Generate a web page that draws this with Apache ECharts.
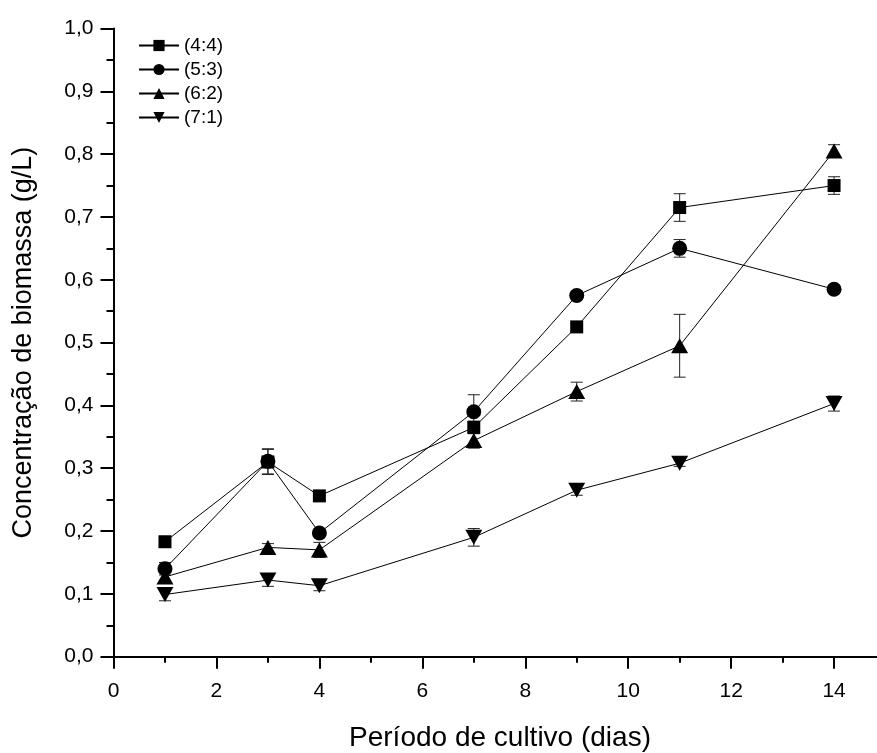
<!DOCTYPE html>
<html>
<head>
<meta charset="utf-8">
<script src="https://cdn.jsdelivr.net/npm/echarts@6/dist/echarts.min.js"></script>
<style>
  html, body { margin: 0; padding: 0; background: #fff; }
  #chart { width: 877px; height: 753px; }
</style>
</head>
<body>
<div id="chart"></div>
<script>
// dias de cultivo
var days = [1, 3, 4, 7, 9, 11, 14];

// biomassa (g/L) por proporção
var s44 = [0.183, 0.310, 0.256, 0.365, 0.525, 0.715, 0.750];
var s53 = [0.140, 0.311, 0.197, 0.390, 0.575, 0.650, 0.585];
var s62 = [0.127, 0.174, 0.170, 0.344, 0.422, 0.495, 0.805];
var s71 = [0.099, 0.122, 0.113, 0.190, 0.265, 0.308, 0.403];

// desvio (barras de erro)
var e44 = [0.008, 0.020, 0.008, 0.010, 0.006, 0.022, 0.014];
var e53 = [0.010, 0.020, 0.006, 0.027, 0.006, 0.014, 0.006];
var e62 = [0.010, 0.006, 0.012, 0.012, 0.015, 0.050, 0.010];
var e71 = [0.010, 0.010, 0.008, 0.014, 0.008, 0.005, 0.012];

var names = ['(4:4)', '(5:3)', '(6:2)', '(7:1)'];

var font = "'Liberation Sans', Arial, sans-serif";

function pairs(vals) {
    var out = [];
    for (var i = 0; i < days.length; i++) out.push([days[i], vals[i]]);
    return out;
}

function errData(vals, errs) {
    var out = [];
    for (var i = 0; i < days.length; i++) out.push([days[i], vals[i], errs[i]]);
    return out;
}

function errorBars(vals, errs) {
    return {
        type: 'custom',
        z: 1,
        silent: true,
        data: errData(vals, errs),
        renderItem: function (params, api) {
            var x = api.value(0), y = api.value(1), e = api.value(2);
            var top = api.coord([x, y + e]);
            var bot = api.coord([x, y - e]);
            var half = 6;
            var st = { stroke: '#222', lineWidth: 1 };
            return {
                type: 'group',
                children: [
                    { type: 'line', shape: { x1: top[0], y1: top[1], x2: bot[0], y2: bot[1] }, style: st },
                    { type: 'line', shape: { x1: top[0] - half, y1: top[1], x2: top[0] + half, y2: top[1] }, style: st },
                    { type: 'line', shape: { x1: bot[0] - half, y1: bot[1], x2: bot[0] + half, y2: bot[1] }, style: st }
                ]
            };
        }
    };
}

function lineSeries(name, vals, symbol, size) {
    return {
        name: name,
        type: 'line',
        z: 3,
        data: pairs(vals),
        symbol: symbol,
        symbolSize: size,
        showAllSymbol: true,
        itemStyle: { color: '#000', borderWidth: 0 },
        lineStyle: { color: '#000', width: 1 }
    };
}

var downTri = 'path://M0,0 L10,0 L5,9 Z';

var chart = echarts.init(document.getElementById('chart'));

var option = {
    animation: false,
    backgroundColor: '#fff',
    grid: {
        left: 113.5, top: 28.5, bottom: 96.3, right: -60,
        containLabel: false,
        outerBoundsMode: 'none'
    },
    legend: {
        data: names,
        orient: 'vertical',
        left: 138,
        top: 36,
        padding: 0,
        itemWidth: 40,
        itemHeight: 14,
        itemGap: 5,
        itemTextGap: 8,
        textStyle: { fontFamily: font, fontSize: 19, color: '#000', lineHeight: 19 }
    },
    xAxis: {
        type: 'value',
        min: 0,
        max: 16,
        interval: 2,
        axisLine: { show: true, onZero: false, lineStyle: { color: '#000', width: 2 } },
        axisTick: { show: true, inside: false, length: 12, lineStyle: { color: '#000', width: 2 } },
        minorTick: { show: true, splitNumber: 2, length: 6, lineStyle: { color: '#000', width: 2 } },
        splitLine: { show: false },
        axisLabel: {
            margin: 24,
            fontFamily: font,
            fontSize: 21,
            color: '#000',
            formatter: function (v) { return v > 14 ? '' : String(v); }
        }
    },
    yAxis: {
        type: 'value',
        min: 0,
        max: 1,
        interval: 0.1,
        name: 'Concentração de biomassa (g/L)',
        nameLocation: 'middle',
        nameGap: 76,
        nameTextStyle: { fontFamily: font, fontSize: 27, color: '#000' },
        axisLine: { show: true, onZero: false, lineStyle: { color: '#000', width: 2 } },
        axisTick: { show: true, inside: false, length: 13, lineStyle: { color: '#000', width: 2 } },
        minorTick: { show: true, splitNumber: 2, length: 7, lineStyle: { color: '#000', width: 2 } },
        splitLine: { show: false },
        axisLabel: {
            margin: 20,
            fontFamily: font,
            fontSize: 21,
            color: '#000',
            formatter: function (v) { return v.toFixed(1).replace('.', ','); }
        }
    },
    graphic: [{
        type: 'text',
        x: 500,
        y: 738,
        style: {
            text: 'Período de cultivo (dias)',
            font: '28px ' + font,
            fill: '#000',
            align: 'center',
            verticalAlign: 'middle',
            textAlign: 'center',
            textVerticalAlign: 'middle'
        }
    }],
    series: [
        errorBars(s44, e44),
        errorBars(s53, e53),
        errorBars(s62, e62),
        errorBars(s71, e71),
        lineSeries(names[0], s44, 'rect', 13),
        lineSeries(names[1], s53, 'circle', 15),
        lineSeries(names[2], s62, 'triangle', [17, 15]),
        lineSeries(names[3], s71, downTri, [17, 15])
    ]
};

chart.setOption(option);
</script>
</body>
</html>
